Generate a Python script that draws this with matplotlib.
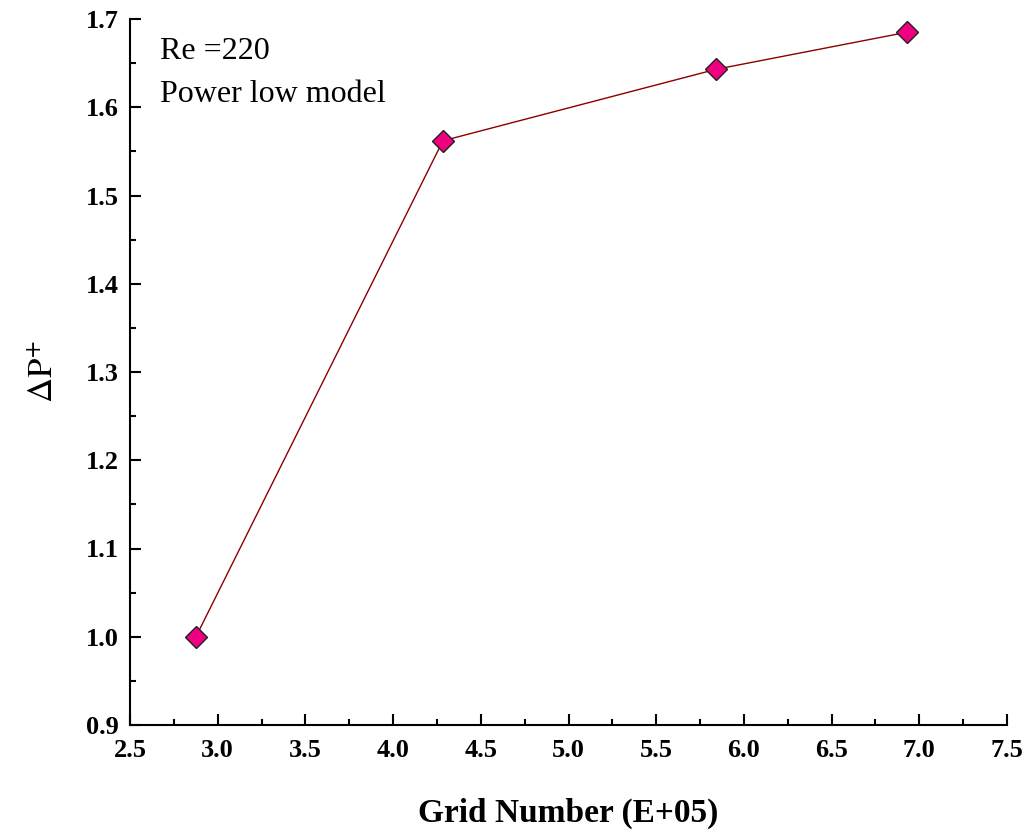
import matplotlib.pyplot as plt
from matplotlib.ticker import MultipleLocator

grid = [2.876, 4.284, 5.841, 6.930]
dp = [1.000, 1.562, 1.643, 1.685]

plt.rcParams['font.family'] = ['Liberation Serif', 'DejaVu Serif']
plt.rcParams['mathtext.fontset'] = 'stix'
fig = plt.figure(figsize=(10.27, 8.34), dpi=100)
ax = fig.add_axes([130 / 1027, 1 - 725 / 834, 877 / 1027, 706 / 834])

ax.plot(grid, dp, color="#8b0000", lw=1, marker="D", markersize=11,
        markerfacecolor="#ee0080", markeredgecolor="#222222", markeredgewidth=1)

ax.set_xlim(2.5, 7.5)
ax.set_ylim(0.9, 1.7)
ax.xaxis.set_major_locator(MultipleLocator(0.5))
ax.xaxis.set_minor_locator(MultipleLocator(0.25))
ax.yaxis.set_major_locator(MultipleLocator(0.1))
ax.yaxis.set_minor_locator(MultipleLocator(0.05))
ax.tick_params(which="both", direction="in", width=1.5, labelsize=19)
ax.tick_params(which="major", length=8)
ax.tick_params(which="minor", length=4)
ax.tick_params(axis="x", pad=10)
ax.tick_params(axis="y", pad=8)
for lbl in ax.get_xticklabels() + ax.get_yticklabels():
    lbl.set_fontweight("bold")
ax.spines["top"].set_visible(False)
ax.spines["right"].set_visible(False)
ax.spines["left"].set_linewidth(1.5)
ax.spines["bottom"].set_linewidth(1.5)

ax.set_xlabel("Grid Number (E+05)", fontsize=24, fontweight="bold", labelpad=26)
ax.set_ylabel(r"$\mathrm{\Delta P}^{+}$", fontsize=25, labelpad=18)

ax.text(0.034, 0.975, "Re =220\nPower low model", transform=ax.transAxes,
        fontsize=23, va="top", ha="left", linespacing=1.65)

fig.savefig("out.png", dpi=100)
